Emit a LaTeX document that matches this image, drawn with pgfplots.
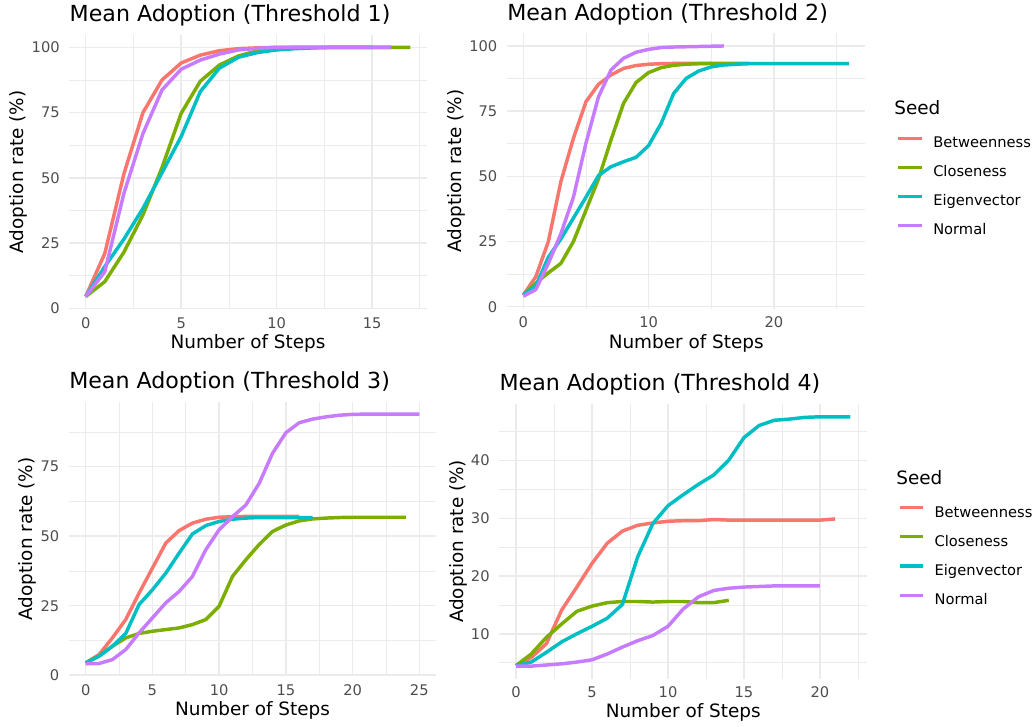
\documentclass[border=0pt]{standalone}
\usepackage{fontspec}
\setmainfont{DejaVu Sans}
\usepackage{pgfplots}
\pgfplotsset{compat=1.18}

\definecolor{cB}{HTML}{F8766D}
\definecolor{cC}{HTML}{7CAE00}
\definecolor{cE}{HTML}{00BFC4}
\definecolor{cN}{HTML}{C77CFF}
\definecolor{gridc}{HTML}{EBEBEB}
\definecolor{tickc}{HTML}{4D4D4D}

\pgfplotsset{
  panel/.style={
    scale only axis, anchor=south west, clip=false,
    axis line style={draw=none}, tick style={draw=none},
    grid=both,
    major grid style={color=gridc, line width=1.1pt},
    minor grid style={color=gridc, line width=0.55pt},
    /pgf/number format/assume math mode=true,
    tick label style={font=\fontsize{11}{13}\selectfont, text=tickc, inner sep=0pt},
    xticklabel style={anchor=base, yshift=-14.4pt},
    yticklabel style={anchor=east, xshift=-7.1pt},
    xlabel={Number of Steps}, ylabel={Adoption rate (\%)},
    label style={font=\fontsize{13.8}{16}\selectfont},
    xlabel style={at={([yshift=-29.5pt]axis description cs:0.5,0)}, anchor=base},
    title style={at={(axis description cs:0,1)}, anchor=base west, yshift=4pt,
      inner sep=0pt, font=\fontsize{16.6}{19}\selectfont},
    every axis plot/.append style={line width=2.6pt, line join=round, no markers},
  },
  seedlegend/.style={
    legend style={at={(axis description cs:#1)}, anchor=north west, draw=none, fill=none,
      inner sep=0pt, row sep=11.75pt, column sep=7.5pt,
      font=\fontsize{11}{13}\selectfont,
      nodes={text height=8pt, text depth=2pt, inner sep=0pt}},
    legend cell align=left,
    legend image code/.code={\draw[##1, line width=2.3pt] (0pt,3.9pt) -- (17.5pt,3.9pt);},
  }
}

\begin{document}
\begin{tikzpicture}
\path (0,0) rectangle (776.25pt,544.5pt);

% Threshold 1
\begin{axis}[panel, at={(52.1pt,312.7pt)}, width=267.8pt, height=205.7pt,
  xmin=-0.85, xmax=17.85, ymin=-0.3, ymax=104.8,
  xtick={0,5,10,15}, minor xtick={2.5,7.5,12.5,17.5},
  ytick={0,25,50,75,100}, minor ytick={12.5,37.5,62.5,87.5},
  ylabel style={at={([xshift=-38pt]axis description cs:0,0.5)}, anchor=center},
  title={Mean Adoption (Threshold 1)}]
\addplot[cB] coordinates {(0,4.5)(1,21)(2,51.5)(3,75)(4,87.5)(5,94)(6,97)(7,98.7)(8,99.5)(9,99.8)(10,100)(11,100)(12,100)(13,100)(14,100)(15,100)(16,100)};
\addplot[cC] coordinates {(0,4.5)(1,10.2)(2,21.5)(3,35.8)(4,54)(5,74.7)(6,87)(7,93.2)(8,96.7)(9,98.7)(10,99.6)(11,100)(12,100)(13,100)(14,100)(15,100)(16,100)(17,100)};
\addplot[cE] coordinates {(0,4.5)(1,16)(2,26.5)(3,38.3)(4,52)(5,65.8)(6,83)(7,92)(8,96.2)(9,98)(10,99)(11,99.5)(12,99.8)(13,100)(14,100)(15,100)};
\addplot[cN] coordinates {(0,4.5)(1,14)(2,44)(3,67)(4,83.7)(5,91.6)(6,95.1)(7,97.4)(8,99)(9,99.6)(10,100)(11,100)(12,100)(13,100)(14,100)(15,100)(16,100)};
\end{axis}

% Threshold 2
\begin{axis}[panel, seedlegend={1.087,0.625}, at={(380.25pt,312.9pt)}, width=268.8pt, height=206.5pt,
  xmin=-1.3, xmax=27.3, ymin=-0.8, ymax=104.8,
  xtick={0,10,20}, minor xtick={5,15,25},
  ytick={0,25,50,75,100}, minor ytick={12.5,37.5,62.5,87.5},
  ylabel style={at={([xshift=-38pt]axis description cs:0,0.5)}, anchor=center},
  title={Mean Adoption (Threshold 2)}]
\addplot[cB] coordinates {(0,4.5)(1,11.5)(2,25)(3,48)(4,64.6)(5,78.6)(6,85.3)(7,88.9)(8,91.4)(9,92.5)(10,93)(11,93.2)(12,93.3)(13,93.3)(14,93.3)(15,93.3)};
\addplot[cC] coordinates {(0,4.5)(1,9)(2,13)(3,16.6)(4,25)(5,37)(6,49)(7,64)(8,78)(9,86)(10,89.8)(11,91.7)(12,92.6)(13,93)(14,93.2)(15,93.3)(16,93.3)(17,93.3)(18,93.3)};
\addplot[cE] coordinates {(0,4.5)(1,8)(2,19)(3,26)(4,34)(5,42)(6,50.3)(7,53.7)(8,55.6)(9,57.3)(10,61.8)(11,70.3)(12,81.8)(13,87.6)(14,90.4)(15,92)(16,92.7)(17,93)(18,93.2)(19,93.2)(20,93.2)(21,93.2)(22,93.2)(23,93.2)(24,93.2)(25,93.2)(26,93.2)};
\addplot[cN] coordinates {(0,4)(1,6.6)(2,16.6)(3,28)(4,42)(5,62.7)(6,80.5)(7,90.8)(8,95.3)(9,97.6)(10,98.7)(11,99.4)(12,99.6)(13,99.7)(14,99.8)(15,99.9)(16,100)};
\legend{Betweenness,Closeness,Eigenvector,Normal}
\node[anchor=base west, inner sep=0pt, font=\fontsize{13.8}{16}\selectfont] at (axis description cs:1.08,0.704) {Seed};
\end{axis}

% Threshold 3
\begin{axis}[panel, at={(51.75pt,37.3pt)}, width=275.25pt, height=206pt,
  xmin=-1.25, xmax=26.25, ymin=-0.39, ymax=98.4,
  xtick={0,5,10,15,20,25}, minor xtick={2.5,7.5,12.5,17.5,22.5},
  ytick={0,25,50,75}, minor ytick={12.5,37.5,62.5,87.5},
  ylabel style={at={([xshift=-31pt]axis description cs:0,0.5)}, anchor=center},
  title={Mean Adoption (Threshold 3)}]
\addplot[cB] coordinates {(0,4.4)(1,7.4)(2,13.4)(3,20)(4,29.5)(5,38.5)(6,47.5)(7,52)(8,54.7)(9,56.1)(10,56.8)(11,57)(12,57.1)(13,57.1)(14,57.1)(15,57.1)(16,57.1)};
\addplot[cC] coordinates {(0,4.4)(1,7)(2,10.4)(3,13.4)(4,15)(5,15.8)(6,16.4)(7,17)(8,18.2)(9,20)(10,24.8)(11,35.5)(12,41.5)(13,47)(14,51.7)(15,54)(16,55.5)(17,56.2)(18,56.5)(19,56.7)(20,56.8)(21,56.8)(22,56.8)(23,56.8)(24,56.8)};
\addplot[cE] coordinates {(0,4.4)(1,6.8)(2,10.4)(3,15)(4,25.4)(5,30.7)(6,36.7)(7,43.9)(8,50.8)(9,53.8)(10,55.3)(11,56.1)(12,56.5)(13,56.7)(14,56.7)(15,56.7)(16,56.7)(17,56.7)};
\addplot[cN] coordinates {(0,4.1)(1,4.2)(2,5.6)(3,9.2)(4,15.2)(5,20.6)(6,26)(7,30.1)(8,35.5)(9,45.1)(10,52.3)(11,57)(12,61.2)(13,69)(14,79.8)(15,87.2)(16,90.8)(17,92.1)(18,92.9)(19,93.5)(20,93.8)(21,93.9)(22,93.9)(23,93.9)(24,93.9)(25,93.9)};
\end{axis}

% Threshold 4
\begin{axis}[panel, seedlegend={1.084,0.629}, at={(374.5pt,35.55pt)}, width=275.8pt, height=205.7pt,
  xmin=-1.1, xmax=23.1, ymin=2.24, ymax=49.76,
  xtick={0,5,10,15,20}, minor xtick={2.5,7.5,12.5,17.5,22.5},
  ytick={10,20,30,40}, minor ytick={5,15,25,35,45},
  ylabel style={at={([xshift=-30.5pt]axis description cs:0,0.5)}, anchor=center},
  title={Mean Adoption (Threshold 4)}]
\addplot[cB] coordinates {(0,4.5)(1,5.9)(2,8.3)(3,14.1)(4,18.1)(5,22.2)(6,25.7)(7,27.8)(8,28.8)(9,29.2)(10,29.5)(11,29.6)(12,29.6)(13,29.8)(14,29.7)(15,29.7)(16,29.7)(17,29.7)(18,29.7)(19,29.7)(20,29.7)(21,29.9)};
\addplot[cC] coordinates {(0,4.5)(1,6.5)(2,9.4)(3,11.7)(4,13.9)(5,14.8)(6,15.4)(7,15.6)(8,15.6)(9,15.5)(10,15.6)(11,15.6)(12,15.4)(13,15.4)(14,15.8)};
\addplot[cE] coordinates {(0,4.5)(1,5.1)(2,6.8)(3,8.6)(4,10)(5,11.3)(6,12.7)(7,15.1)(8,23.3)(9,29.1)(10,32.2)(11,34.1)(12,35.9)(13,37.5)(14,40.1)(15,44)(16,46.1)(17,47)(18,47.2)(19,47.5)(20,47.6)(21,47.6)(22,47.6)};
\addplot[cN] coordinates {(0,4.4)(1,4.4)(2,4.6)(3,4.8)(4,5.1)(5,5.5)(6,6.5)(7,7.7)(8,8.8)(9,9.7)(10,11.3)(11,14.3)(12,16.4)(13,17.5)(14,17.9)(15,18.1)(16,18.2)(17,18.3)(18,18.3)(19,18.3)(20,18.3)};
\legend{Betweenness,Closeness,Eigenvector,Normal}
\node[anchor=base west, inner sep=0pt, font=\fontsize{13.8}{16}\selectfont] at (axis description cs:1.079,0.706) {Seed};
\end{axis}
\end{tikzpicture}
\end{document}
